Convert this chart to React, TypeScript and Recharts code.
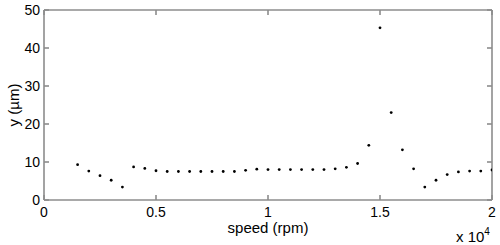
import React from 'react';
import { ScatterChart, Scatter, XAxis, YAxis, Label } from 'recharts';

const speeds = [
  1500, 2000, 2500, 3000, 3500, 4000, 4500, 5000, 5500, 6000,
  6500, 7000, 7500, 8000, 8500, 9000, 9500, 10000, 10500, 11000,
  11500, 12000, 12500, 13000, 13500, 14000, 14500, 15000, 15500, 16000,
  16500, 17000, 17500, 18000, 18500, 19000, 19500, 20000,
];
const amplitudes = [
  9.3, 7.6, 6.4, 5.2, 3.4, 8.7, 8.3, 7.7, 7.5, 7.5,
  7.5, 7.5, 7.5, 7.5, 7.5, 7.8, 8.1, 8.0, 8.0, 8.0,
  8.0, 8.0, 8.0, 8.2, 8.6, 9.6, 14.4, 45.3, 23.0, 13.2,
  8.2, 3.4, 5.2, 6.7, 7.4, 7.6, 7.6, 7.9,
];
const xTicks = [0, 5000, 10000, 15000, 20000];
const yTicks = [0, 10, 20, 30, 40, 50];

const axisColor = '#8c8c8c';
const axisWidth = 1.6;
const font = 'Arimo, "Liberation Sans", Arial, Helvetica, sans-serif';

const App: React.FC = () => {
  const data = speeds.map((s, i) => ({ speed: s, y: amplitudes[i] }));
  const tickStyle = { fill: '#000', fontSize: 14, fontFamily: font };
  const labelStyle = { fill: '#000', fontSize: 15, fontFamily: font };

  return (
    <div style={{ position: 'relative', width: 500, height: 245, background: '#fff', overflow: 'hidden' }}>
      <style>{'body { margin: 0; }'}</style>
      <ScatterChart width={500} height={245} margin={{ top: 9, right: 7, bottom: 0, left: 0 }}>
        <XAxis
          type="number"
          dataKey="speed"
          domain={[0, 20000]}
          ticks={xTicks}
          tickFormatter={(v: number) => String(v / 10000)}
          height={45}
          stroke={axisColor}
          strokeWidth={axisWidth}
          tick={tickStyle}
          tickSize={-5}
          tickMargin={12}
          allowDataOverflow
        >
          <Label
            content={({ viewBox }: any) => (
              <text x={viewBox.x + viewBox.width / 2} y={233} textAnchor="middle" style={labelStyle}>
                speed (rpm)
              </text>
            )}
          />
        </XAxis>
        <XAxis
          xAxisId="top"
          orientation="top"
          type="number"
          dataKey="speed"
          domain={[0, 20000]}
          ticks={xTicks}
          height={1}
          stroke={axisColor}
          strokeWidth={axisWidth}
          tickFormatter={() => ''}
          tickSize={-5}
        />
        <YAxis
          type="number"
          dataKey="y"
          domain={[0, 50]}
          ticks={yTicks}
          width={44}
          stroke={axisColor}
          strokeWidth={axisWidth}
          tick={tickStyle}
          tickSize={-5}
          tickMargin={9}
          allowDataOverflow
        >
          <Label
            content={({ viewBox }: any) => (
              <text
                x={13}
                y={viewBox.y + viewBox.height / 2}
                transform={`rotate(-90, 13, ${viewBox.y + viewBox.height / 2})`}
                textAnchor="middle"
                dominantBaseline="central"
                style={labelStyle}
              >
                y (µm)
              </text>
            )}
          />
        </YAxis>
        <YAxis
          yAxisId="right"
          orientation="right"
          type="number"
          dataKey="y"
          domain={[0, 50]}
          ticks={yTicks}
          width={1}
          stroke={axisColor}
          strokeWidth={axisWidth}
          tickFormatter={() => ''}
          tickSize={-5}
        />
        <Scatter
          data={data}
          isAnimationActive={false}
          shape={(p: any) => <circle cx={p.cx} cy={p.cy} r={1.4} fill="#000" />}
        />
        {/* invisible series so the top/right frame axes get drawn */}
        <Scatter
          data={data}
          xAxisId="top"
          yAxisId="right"
          isAnimationActive={false}
          shape={() => <g />}
        />
      </ScatterChart>
      <div
        style={{
          position: 'absolute',
          left: 456,
          top: 229,
          fontSize: 15,
          fontFamily: font,
          color: '#000',
          lineHeight: '15px',
          whiteSpace: 'nowrap',
        }}
      >
        x 10<span style={{ fontSize: 10, position: 'relative', top: -7 }}>4</span>
      </div>
    </div>
  );
};

export default App;
